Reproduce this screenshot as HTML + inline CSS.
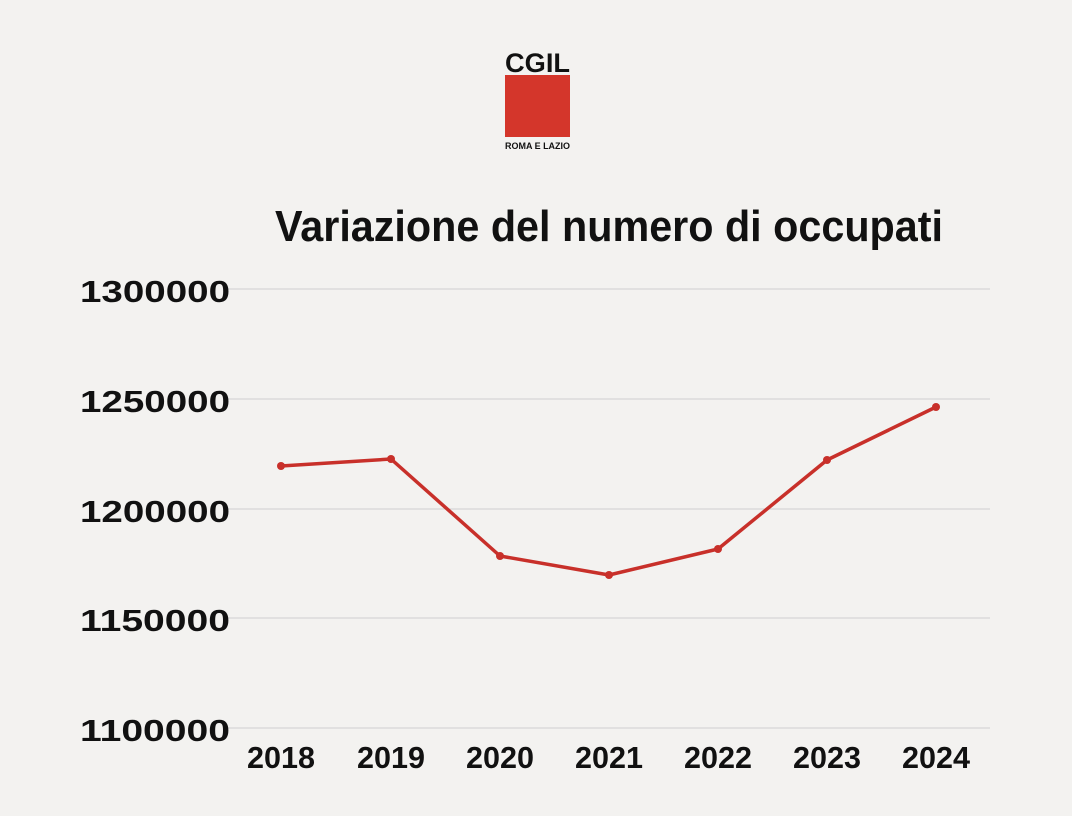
<!DOCTYPE html>
<html><head><meta charset="utf-8"><style>
html,body{margin:0;padding:0;background:#f3f2f0;}
svg{display:block;font-family:"Liberation Sans",sans-serif;font-weight:bold;}
</style></head><body>
<svg width="1072" height="816" viewBox="0 0 1072 816">
<rect width="1072" height="816" fill="#f3f2f0"/>
<text x="505" y="72" font-size="27" textLength="65" lengthAdjust="spacingAndGlyphs" fill="#111" font-weight="900">CGIL</text>
<rect x="505" y="75" width="65" height="62" fill="#d4362b"/>
<text x="505" y="149" font-size="9" textLength="65" lengthAdjust="spacingAndGlyphs" fill="#111">ROMA E LAZIO</text>
<text x="275" y="241" font-size="44" textLength="668" lengthAdjust="spacingAndGlyphs" fill="#111">Variazione del numero di occupati</text>
<g stroke="#cfcfcf" stroke-width="1">
<line x1="228" y1="289" x2="990" y2="289"/>
<line x1="228" y1="399" x2="990" y2="399"/>
<line x1="228" y1="509" x2="990" y2="509"/>
<line x1="228" y1="618" x2="990" y2="618"/>
<line x1="228" y1="728" x2="990" y2="728"/>
</g>
<g font-size="31" fill="#111">
<text x="80" y="302" textLength="150" lengthAdjust="spacingAndGlyphs">1300000</text>
<text x="80" y="412" textLength="150" lengthAdjust="spacingAndGlyphs">1250000</text>
<text x="80" y="522" textLength="150" lengthAdjust="spacingAndGlyphs">1200000</text>
<text x="80" y="631" textLength="150" lengthAdjust="spacingAndGlyphs">1150000</text>
<text x="80" y="741" textLength="150" lengthAdjust="spacingAndGlyphs">1100000</text>
</g>
<g font-size="31" fill="#111" text-anchor="middle">
<text x="281" y="768" textLength="68" lengthAdjust="spacingAndGlyphs">2018</text>
<text x="391" y="768" textLength="68" lengthAdjust="spacingAndGlyphs">2019</text>
<text x="500" y="768" textLength="68" lengthAdjust="spacingAndGlyphs">2020</text>
<text x="609" y="768" textLength="68" lengthAdjust="spacingAndGlyphs">2021</text>
<text x="718" y="768" textLength="68" lengthAdjust="spacingAndGlyphs">2022</text>
<text x="827" y="768" textLength="68" lengthAdjust="spacingAndGlyphs">2023</text>
<text x="936" y="768" textLength="68" lengthAdjust="spacingAndGlyphs">2024</text>
</g>
<polyline points="281,466 391,459 500,556 609,575 718,549 827,460 936,407" fill="none" stroke="#c8302a" stroke-width="3.5" stroke-linejoin="round"/>
<g fill="#c8302a">
<circle cx="281" cy="466" r="4"/><circle cx="391" cy="459" r="4"/><circle cx="500" cy="556" r="4"/>
<circle cx="609" cy="575" r="4"/><circle cx="718" cy="549" r="4"/><circle cx="827" cy="460" r="4"/><circle cx="936" cy="407" r="4"/>
</g>
</svg>
</body></html>
